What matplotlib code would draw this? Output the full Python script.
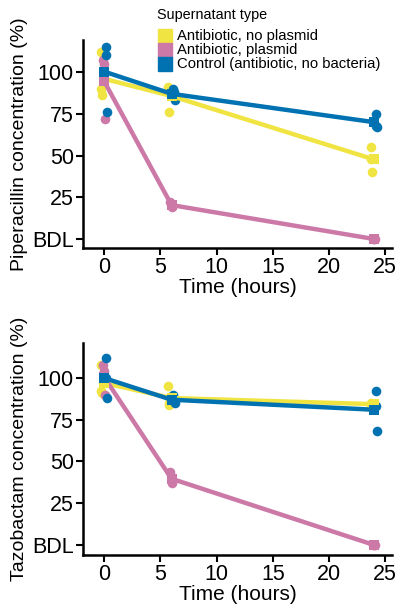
import matplotlib
matplotlib.use('Agg')
from matplotlib import pyplot as plt
from matplotlib.lines import Line2D
import numpy as np

plt.rcParams['font.family'] = ['Liberation Sans', 'DejaVu Sans']

times = [0, 6, 24]
groups = ['Antibiotic, no plasmid', 'Antibiotic, plasmid', 'Control (antibiotic, no bacteria)']
colors = ['#F0E442', '#CC79A7', '#0072B2']

# replicate values per group, per time point (BDL plotted as 0)
pip_no_plasmid = [[112, 90, 86], [91, 90, 76], [55, 48, 40]]
pip_plasmid = [[107, 105, 72], [22, 20, 19], [0, 0, 0]]
pip_control = [[115, 110, 76], [90, 88, 83], [75, 68, 67]]

taz_no_plasmid = [[108, 92, 91], [95, 85, 84], [85, 84, 84]]
taz_plasmid = [[108, 104, 90], [44, 38, 37], [0, 0, 0]]
taz_control = [[112, 100, 88], [90, 86, 85], [92, 83, 68]]

yticks = [0, 25, 50, 75, 100]
yticklabels = ['BDL', '25', '50', '75', '100']

# horizontal jitter for replicate points, per group
jitter = [[-0.3, -0.25, -0.2], [-0.1, 0.0, 0.05], [0.15, 0.2, 0.3]]

W, H = 398, 607
fig = plt.figure(figsize=(W / 100, H / 100), dpi=100)
ax1 = fig.add_axes([0.2085, 0.5914, 0.7765, 0.3426])
ax2 = fig.add_axes([0.2085, 0.0857, 0.7765, 0.3493])


def draw_panel(ax, data, ylabel, ylim):
    for g, (reps, col) in enumerate(zip(data, colors)):
        reps = np.array(reps, dtype=float)
        means = reps.mean(axis=1)
        for i, t in enumerate(times):
            xs = np.array(jitter[g]) + t
            ax.scatter(xs, reps[i], s=48, color=col, zorder=2, linewidths=0)
        ax.plot(times, means, color=col, lw=3.2, zorder=3, solid_capstyle='round')
        ax.scatter(times, means, s=50, marker='s', color=col, zorder=4, linewidths=0)
    ax.set_xlim(-1.87, 25.6)
    ax.set_ylim(*ylim)
    ax.set_xticks([0, 5, 10, 15, 20, 25])
    ax.set_yticks(yticks)
    ax.set_yticklabels(yticklabels)
    for s in ['top', 'right']:
        ax.spines[s].set_visible(False)
    for s in ['left', 'bottom']:
        ax.spines[s].set_linewidth(1.8)
    ax.tick_params(axis='both', direction='out', length=5, width=1.5,
                   labelsize=15.5, colors='black', pad=1.5)
    ax.set_xlabel('Time (hours)', fontsize=15, labelpad=0)
    ax.set_ylabel(ylabel, fontsize=14, labelpad=3)


draw_panel(ax1, [pip_no_plasmid, pip_plasmid, pip_control],
           'Piperacillin concentration (%)', (-5.4, 119.2))
draw_panel(ax2, [taz_no_plasmid, taz_plasmid, taz_control],
           'Tazobactam concentration (%)', (-6, 121))

# legend drawn by hand at the top (pixel positions from the top-left corner)
fig.text(157 / W, 1 - 15 / H, 'Supernatant type', fontsize=10.4, va='center', ha='left')
for k, (lab, col) in enumerate(zip(groups, colors)):
    yk = 1 - (36 + 14 * k) / H
    fig.add_artist(Line2D([165 / W], [yk], marker='s', ls='', color=col,
                          markersize=10, transform=fig.transFigure))
    fig.text(177 / W, yk, lab, fontsize=10.7, va='center', ha='left')

fig.savefig('out.png', dpi=100)
